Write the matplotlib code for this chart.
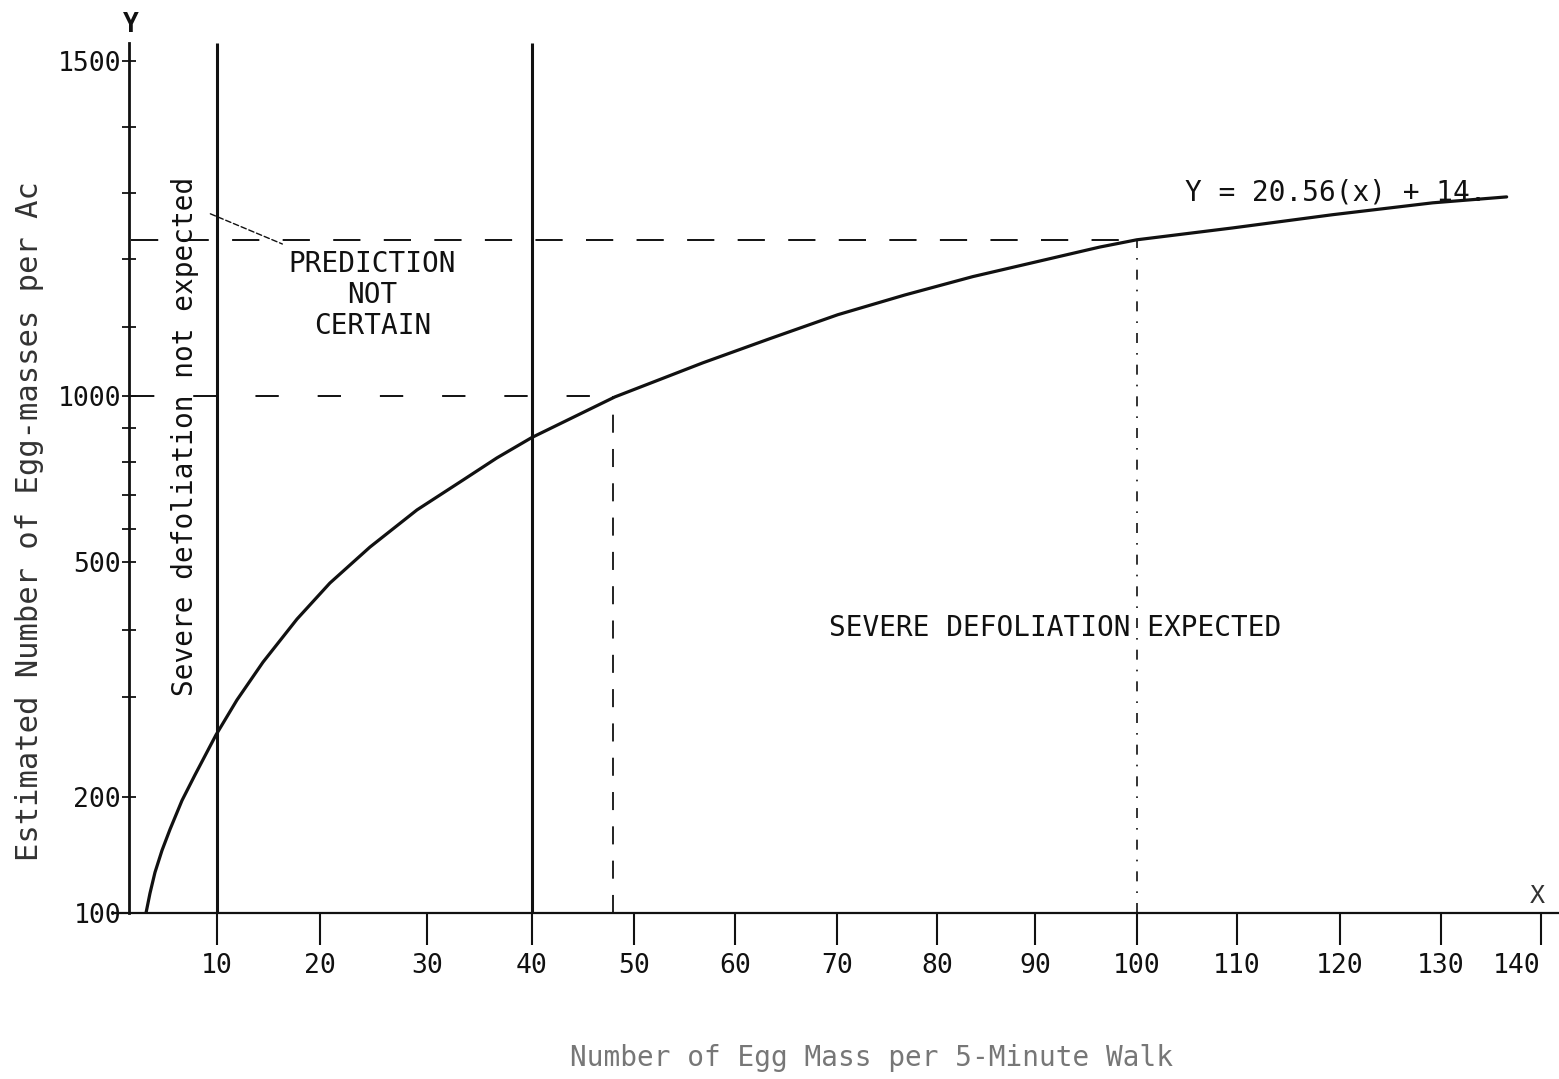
import matplotlib
matplotlib.use('Agg')
import matplotlib.pyplot as plt
import numpy as np

# Curve (x = egg masses per walk, y = egg masses per acre)
curve_x = [3.04, 3.43, 3.92, 4.61, 5.39, 6.57, 7.84, 9.9, 11.94, 14.47, 17.77, 20.93,
           24.67, 29.07, 33.43, 36.67, 40.0, 48.14, 56.83, 63.43, 70.1, 76.8, 83.67,
           96.37, 100.0, 109.6, 119.3, 129.2, 136.6]
curve_y = [100, 117, 135, 154, 172, 197, 222, 262, 297, 352, 416, 469,
           545, 656, 745, 812, 872, 997, 1048, 1083, 1118, 1147, 1174,
           1218, 1229, 1247, 1267, 1285, 1294]

# Boundaries drawn on the chart
zone_lines_x = [10, 40]
low_cut_x, low_cut_y = 48, 1000
high_cut_x, high_cut_y = 100, 1229

x_ticks = [10, 20, 30, 40, 50, 60, 70, 80, 90, 100, 110, 120, 130, 140]
y_ticks = [100, 200, 300, 400, 500, 600, 700, 800, 900, 1000, 1100, 1200, 1300, 1400, 1500]
y_labeled = [100, 200, 500, 1000, 1500]

# The hand-drawn axes are not evenly spaced: pixel positions of the ticks
x_grid_val = [0, 10, 20, 30, 40, 50, 60, 70, 80, 90, 100, 110, 120, 130, 140, 150]
x_grid_px = [115, 217, 320, 427, 532, 634, 735, 837, 937, 1035, 1137, 1237, 1340, 1441, 1541, 1643]
y_grid_val = [100, 200, 300, 400, 500, 600, 700, 800, 900, 1000, 1100, 1200, 1300, 1400, 1500, 1600]
y_grid_px = [913, 797, 697, 630, 562, 529, 495, 462, 428, 396, 327, 259, 193, 127, 61, -5]

xv = np.array(x_grid_val, float)
xp = np.array(x_grid_px, float)
yv = np.array(y_grid_val, float)
yp = -np.array(y_grid_px, float)


def fx(v):
    return np.interp(v, xv, xp)


def fx_inv(p):
    return np.interp(p, xp, xv)


def fy(v):
    return np.interp(v, yv, yp)


def fy_inv(p):
    return np.interp(p, yp, yv)


mono = 'DejaVu Sans Mono'
ink = '#111111'

fig = plt.figure(figsize=(15.59, 10.79), dpi=100)
ax = fig.add_axes([115 / 1559, (1079 - 913) / 1079, (1559 - 115) / 1559, (913 - 20) / 1079])
ax.set_xscale('function', functions=(fx, fx_inv))
ax.set_yscale('function', functions=(fy, fy_inv))
ax.set_xlim(0, 141.8)
ax.set_ylim(100, 1562)

# Axes
for side in ['top', 'right']:
    ax.spines[side].set_visible(False)
ax.spines['left'].set_position(('data', 1.4))
ax.spines['left'].set_bounds(100, 1527)
ax.spines['left'].set_linewidth(2)
ax.spines['bottom'].set_linewidth(1.6)
ax.spines['left'].set_color(ink)
ax.spines['bottom'].set_color(ink)

ax.set_xticks(x_ticks)
ax.set_xticklabels([str(t) for t in x_ticks], fontfamily=mono, fontsize=19, color='#333333')
ax.get_xticklabels()[-1].set_horizontalalignment('right')
ax.tick_params(axis='x', direction='out', length=23, width=1.5, pad=6, colors=ink)
ax.set_yticks(y_ticks)
ax.set_yticklabels([str(t) if t in y_labeled else '' for t in y_ticks],
                   fontfamily=mono, fontsize=19, color='#222222')
ax.tick_params(axis='y', direction='inout', length=10, width=1.3, pad=1, colors=ink)
ax.minorticks_off()

# Zone boundaries
for xz in zone_lines_x:
    ax.plot([xz, xz], [100, 1527], color=ink, linewidth=2.2, solid_capstyle='butt')

ax.plot([1.6, low_cut_x], [low_cut_y, low_cut_y], color=ink, linewidth=1.4, dashes=(12, 20))
ax.plot([low_cut_x, low_cut_x], [100, low_cut_y], color=ink, linewidth=1.3, dashes=(10, 9))
ax.plot([1.6, high_cut_x], [high_cut_y, high_cut_y], color=ink, linewidth=1.4, dashes=(14, 12))
ax.plot([high_cut_x, high_cut_x], [100, high_cut_y], color=ink, linewidth=1.2, dashes=(6, 6, 1, 6))

# Regression curve
ax.plot(curve_x, curve_y, color=ink, linewidth=2.3, solid_capstyle='round', solid_joinstyle='round')

# Labels and annotations
ax.text(1.6, 1555, 'Y', fontfamily=mono, fontsize=19, fontweight='bold', color=ink,
        ha='center', va='center', clip_on=False)
ax.text(139.7, 104, 'X', fontfamily=mono, fontsize=18, color='#333333',
        ha='center', va='bottom', clip_on=False)
ax.text(6.9, 874, 'Severe defoliation not expected', fontfamily=mono, fontsize=20,
        rotation=90, ha='center', va='center', color=ink)
ax.text(24.9, 1147, 'PREDICTION\nNOT\nCERTAIN', fontfamily=mono, fontsize=20,
        ha='center', va='center', multialignment='center', linespacing=1.15, color=ink)
ax.annotate('', xy=(16.6, 1221), xytext=(9.1, 1270),
            arrowprops=dict(arrowstyle='-', color=ink, linewidth=1.0, linestyle=(0, (4, 2))))
ax.text(92, 403, 'SEVERE DEFOLIATION EXPECTED', fontfamily=mono, fontsize=20,
        ha='center', va='center', color=ink)
ax.text(104.8, 1300, 'Y = 20.56(x) + 14.', fontfamily=mono, fontsize=20,
        ha='left', va='center', color=ink)

fig.text(30 / 1559, 1 - 521 / 1079, 'Estimated Number of Egg-masses per Ac',
         fontfamily=mono, fontsize=22, rotation=90, ha='center', va='center', color='#333333')
fig.text(872 / 1559, 1 - 1058 / 1079, 'Number of Egg Mass per 5-Minute Walk',
         fontfamily=mono, fontsize=20, ha='center', va='center', color='#777777')

plt.savefig('out.png', dpi=100)
plt.close()
